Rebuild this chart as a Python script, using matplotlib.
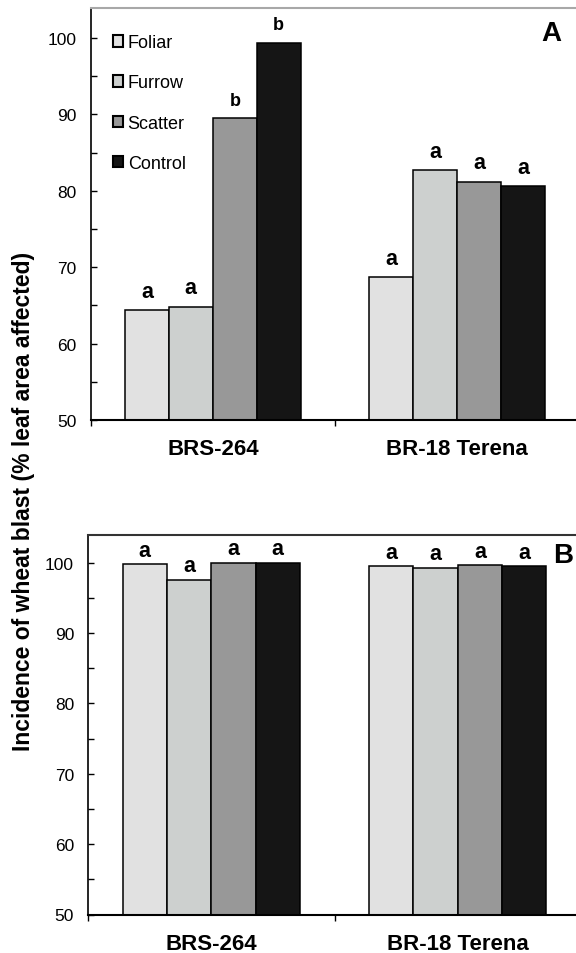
import matplotlib
matplotlib.use("Agg")
import matplotlib.pyplot as plt
import matplotlib.patches as mpatches
import numpy as np

plt.rcParams["font.family"] = ["Liberation Sans", "DejaVu Sans"]

# data
cultivars = ["BRS-264", "BR-18 Terena"]
treatments = ["Foliar", "Furrow", "Scatter", "Control"]
colors = ["#e1e1e1", "#cdd0cf", "#989898", "#151515"]

# panel A: severity (% leaf area affected)
severity = {
    "Foliar": [64.4, 68.7],
    "Furrow": [64.8, 82.7],
    "Scatter": [89.5, 81.2],
    "Control": [99.4, 80.6],
}
severity_letters = {
    "Foliar": ["a", "a"],
    "Furrow": ["a", "a"],
    "Scatter": ["b", "a"],
    "Control": ["b", "a"],
}

# panel B: incidence
incidence = {
    "Foliar": [99.8, 99.5],
    "Furrow": [97.6, 99.3],
    "Scatter": [100.0, 99.6],
    "Control": [100.0, 99.5],
}
incidence_letters = {
    "Foliar": ["a", "a"],
    "Furrow": ["a", "a"],
    "Scatter": ["a", "a"],
    "Control": ["a", "a"],
}

W, H = 576, 954
fig = plt.figure(figsize=(W / 100, H / 100), dpi=100)

bar_w = 0.18
x = np.arange(len(cultivars))


def _panel(ax, values, letters, panel_label, label_pos, top_color, letter_off):
    for k, t in enumerate(treatments):
        xs = x + (k - 1.5) * bar_w
        ax.bar(xs, values[t], width=bar_w, color=colors[k],
               edgecolor="black", linewidth=1.1, zorder=2)
        for xi, v, lab in zip(xs, values[t], letters[t]):
            size = 13 if lab == "b" else 15.5
            ax.annotate(lab, (xi, v), xytext=(0, letter_off),
                        textcoords="offset points", ha="center",
                        va="baseline", fontsize=size, fontweight="bold")

    ax.set_xlim(-0.5, 1.5)
    ax.set_ylim(50, 104)

    # y ticks
    ax.set_yticks(np.arange(50, 101, 10))
    ax.set_yticks(np.arange(55, 100, 10), minor=True)
    ax.tick_params(axis="y", which="both", direction="in", length=4.5,
                   width=1.0, labelsize=12.5, pad=10)

    # x ticks: separators as major ticks, names as minor labels
    ax.set_xticks([-0.5, 0.5, 1.5])
    ax.set_xticklabels([])
    ax.set_xticks(x, minor=True)
    ax.set_xticklabels(cultivars, minor=True, fontsize=16, fontweight="bold")
    ax.tick_params(axis="x", which="major", direction="out", length=4.5,
                   width=1.0)
    ax.tick_params(axis="x", which="minor", length=0, pad=13)

    ax.spines["right"].set_visible(False)
    ax.spines["top"].set_color(top_color)
    ax.spines["top"].set_linewidth(1.5)
    ax.spines["left"].set_linewidth(1.2)
    ax.spines["bottom"].set_linewidth(1.5)

    ax.text(label_pos[0], label_pos[1], panel_label, transform=ax.transAxes,
            ha="center", va="center", fontsize=20, fontweight="bold")


# A
ax1 = fig.add_axes([90.7 / W, 1 - 421 / H, 488.6 / W, 412.5 / H])
_panel(ax1, severity, severity_letters, "A", (0.9435, 0.937), "#a8a8a8", 9.7)

# LEGEND
handles = [mpatches.Patch(facecolor=c, edgecolor="black", linewidth=1.5,
                          label=t) for t, c in zip(treatments, colors)]
ax1.legend(handles=handles, loc="upper left", bbox_to_anchor=(0.045, 0.935),
           frameon=False, fontsize=13, handlelength=0.58, handleheight=0.58,
           handletextpad=0.25, labelspacing=1.28, borderpad=0,
           borderaxespad=0)

# B
ax2 = fig.add_axes([88 / W, 1 - 915.5 / H, 493 / W, 380 / H])
_panel(ax2, incidence, incidence_letters, "B", (0.9635, 0.946), "#333333", 6)

fig.text(24 / W, 1 - 501 / H,
         "Incidence of wheat blast (% leaf area affected)",
         rotation=90, ha="center", va="center", fontsize=16.5,
         fontweight="bold")

fig.savefig("out.png", dpi=100)
